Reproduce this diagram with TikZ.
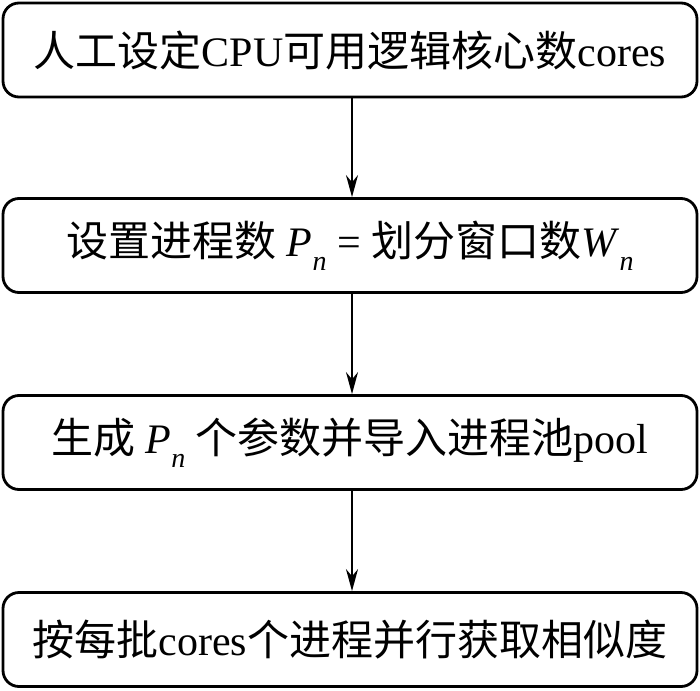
\documentclass[tikz,border=0pt]{standalone}
\usepackage{fontspec}
\setmainfont{Liberation Serif}
\newfontfamily\cjk{Noto Sans CJK SC}
\usetikzlibrary{arrows.meta}
\newcommand{\mysubn}[1]{\raisebox{-0.33em}{\fontsize{28}{28}\selectfont\itshape #1}}
\begin{document}
\begin{tikzpicture}[x=1pt,y=-1pt,
  box/.style={draw, line width=2.8pt, rounded corners=16pt, minimum width=694pt,
    minimum height=94pt, inner sep=0pt, font=\fontsize{42}{42}\selectfont},
  arr/.style={line width=2pt, -{Stealth[length=22pt,width=12pt]}}]
\useasboundingbox (0,0) rectangle (700,690);
\node[box] (a) at (350,50) {{\cjk 人工设定}CPU{\cjk 可用逻辑核心数}cores};
\node[box] (b) at (350,245.5) {{\cjk 设置进程数} \textit{P}\mysubn{n} = {\cjk 划分窗口数}\textit{W}\mysubn{n}};
\node[box] (c) at (350,442.5) {{\cjk 生成} \textit{P}\mysubn{n} {\cjk 个参数并导入进程池}pool};
\node[box] (d) at (350,639.5) {{\cjk 按每批}cores{\cjk 个进程并行获取相似度}};
\draw[arr] ([xshift=2pt]a.south) -- ([xshift=2pt]b.north);
\draw[arr] ([xshift=2pt]b.south) -- ([xshift=2pt]c.north);
\draw[arr] ([xshift=2pt]c.south) -- ([xshift=2pt]d.north);
\end{tikzpicture}
\end{document}
